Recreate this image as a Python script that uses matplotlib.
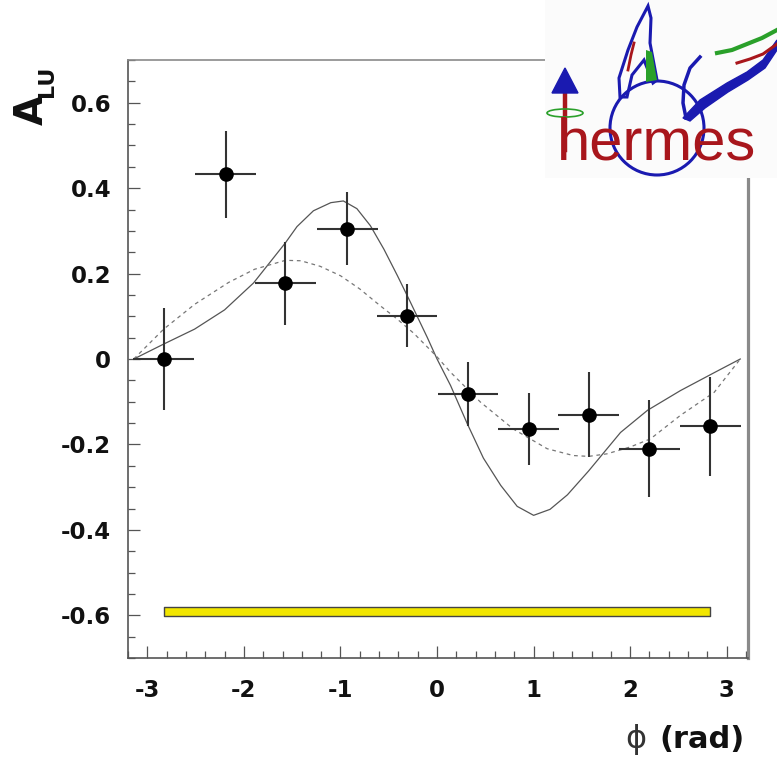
import matplotlib
matplotlib.use('Agg')
import matplotlib.pyplot as plt
from matplotlib.ticker import MultipleLocator, FuncFormatter
from matplotlib.patches import Circle, Ellipse, Polygon, Rectangle

plt.rcParams['font.family'] = ['DejaVu Sans']
plt.rcParams['axes.unicode_minus'] = False

# ---- data ----
phi = [-2.83, -2.19, -1.57, -0.93, -0.31, 0.32, 0.95, 1.57, 2.20, 2.83]
a_lu = [0.000, 0.432, 0.177, 0.305, 0.101, -0.082, -0.164, -0.130, -0.210, -0.158]
a_err = [0.119, 0.101, 0.097, 0.085, 0.074, 0.076, 0.085, 0.100, 0.113, 0.116]
phi_halfwidth = [0.314, 0.314, 0.314, 0.314, 0.314, 0.314, 0.314, 0.314, 0.314, 0.314]

sys_low = [-0.602, -0.602, -0.602, -0.602, -0.602, -0.602, -0.602, -0.602, -0.602, -0.602]
sys_high = [-0.580, -0.580, -0.580, -0.580, -0.580, -0.580, -0.580, -0.580, -0.580, -0.580]

solid_x = [-3.14, -2.83, -2.51, -2.20, -1.90, -1.57, -1.45, -1.28, -1.10, -0.97, -0.83,
           -0.69, -0.55, -0.41, -0.28, -0.10, 0.00, 0.14, 0.31, 0.48, 0.66, 0.83,
           1.00, 1.17, 1.35, 1.57, 1.90, 2.18, 2.52, 2.87, 3.14]
solid_y = [0.000, 0.035, 0.070, 0.115, 0.178, 0.272, 0.310, 0.347, 0.366, 0.370, 0.352,
           0.312, 0.257, 0.195, 0.135, 0.050, 0.000, -0.062, -0.150, -0.232, -0.296, -0.345,
           -0.366, -0.352, -0.318, -0.262, -0.172, -0.120, -0.074, -0.032, 0.000]

dash_x = [-3.14, -2.83, -2.51, -2.16, -1.89, -1.57, -1.41, -1.21, -1.00, -0.80, -0.59,
          -0.41, -0.24, 0.00, 0.14, 0.45, 0.79, 1.14, 1.41, 1.57, 1.76, 2.00, 2.21,
          2.52, 2.87, 3.14]
dash_y = [0.000, 0.070, 0.128, 0.179, 0.210, 0.231, 0.230, 0.217, 0.195, 0.164, 0.125,
          0.093, 0.060, 0.005, -0.031, -0.101, -0.164, -0.210, -0.226, -0.228, -0.222,
          -0.206, -0.187, -0.132, -0.078, 0.000]

W, H = 777, 758
fig = plt.figure(figsize=(W / 100, H / 100), dpi=100)
fig.patch.set_facecolor('white')
ax = fig.add_axes([128 / W, 1 - 658 / H, 620 / W, 598 / H])
ax.set_xlim(-3.2, 3.22)
ax.set_ylim(-0.7, 0.7)

# systematic band
ax.fill_between(phi, sys_low, sys_high, facecolor='#f2e600', edgecolor='#444444', lw=1.0, zorder=2)

# curves
ax.plot(solid_x, solid_y, color='#555555', lw=0.9, zorder=3)
ax.plot(dash_x, dash_y, color='#777777', lw=0.9, ls=(0, (3, 3)), zorder=3)

# data
ax.errorbar(phi, a_lu, yerr=a_err, xerr=phi_halfwidth, fmt='o', color='black', ms=9.5,
            ecolor='#333333', elinewidth=1.5, capsize=0, zorder=5)

# spines
for s in ['left', 'bottom']:
    ax.spines[s].set_color('#555555')
    ax.spines[s].set_linewidth(1.2)
ax.spines['top'].set_color('#8a8a8a')
ax.spines['top'].set_linewidth(1.2)
ax.spines['right'].set_color('#8a8a8a')
ax.spines['right'].set_linewidth(2.3)

ax.xaxis.set_major_locator(MultipleLocator(1))
ax.xaxis.set_minor_locator(MultipleLocator(0.2))
ax.yaxis.set_major_locator(MultipleLocator(0.2))
ax.yaxis.set_minor_locator(MultipleLocator(0.05))
fmt = FuncFormatter(lambda v, p: ('%g' % round(v, 3)).replace('-0', '-0') if abs(v) > 1e-9 else '0')
ax.yaxis.set_major_formatter(fmt)
ax.xaxis.set_major_formatter(FuncFormatter(lambda v, p: '%d' % round(v)))
ax.tick_params(which='both', direction='in', top=False, right=False, color='#555555')
ax.tick_params(which='major', length=8.6, width=0.9)
ax.tick_params(which='minor', length=4.7, width=0.9)
ax.tick_params(axis='x', which='major', pad=15)
ax.tick_params(axis='y', which='major', pad=12)
for lab in ax.get_xticklabels() + ax.get_yticklabels():
    lab.set_fontsize(16.5)
    lab.set_fontweight('bold')
    lab.set_color('#111111')

# axis titles
fig.text(745 / W, 1 - 748 / H, '(rad)', ha='right', va='baseline', fontsize=22,
         fontweight='bold', color='#111111')
fig.text(646 / W, 1 - 748 / H, '\u03d5', ha='right', va='baseline', fontsize=23,
         color='#333333')
fig.text(43 / W, 1 - 125 / H, 'A', rotation=90, rotation_mode='anchor', ha='left',
         va='baseline', fontsize=28, fontweight='bold', color='#111111')
fig.text(53 / W, 1 - 97 / H, 'LU', rotation=90, rotation_mode='anchor', ha='left',
         va='baseline', fontsize=16, fontweight='bold', color='#111111')

# ---- HERMES logo ----
lax = fig.add_axes([545 / W, 1 - 178 / H, 232 / W, 178 / H])
lax.set_xlim(545, 777)
lax.set_ylim(178, 0)
lax.axis('off')
lax.add_patch(Rectangle((545, 0), 232, 178, facecolor='#fbfbfb', edgecolor='none', zorder=0))
blue = '#1a1ab0'
red = '#a8161c'
green = '#2aa02a'
lax.add_patch(Circle((657, 128), 47, fill=False, ec=blue, lw=2.2, zorder=2))
# left wing
lax.add_patch(Polygon([(620, 97), (619, 78), (628, 50), (637, 27), (648, 6), (651, 18),
                       (650, 43), (657, 80), (653, 83), (644, 60), (632, 75), (627, 97)],
                      closed=True, facecolor='none', edgecolor=blue, lw=2.2, zorder=2))
lax.add_patch(Polygon([(646, 50), (652, 52), (657, 80), (646, 82)], closed=True,
                      facecolor=green, edgecolor='none', zorder=3))
lax.plot([628, 631, 634], [70, 55, 43], color=red, lw=2.0, zorder=3)
# right C stroke
lax.plot([700, 690, 684, 683, 686], [57, 68, 85, 103, 118], color=blue, lw=2.5, zorder=2)
# right wing
lax.add_patch(Polygon([(683, 118), (700, 100), (727, 83), (747, 72), (763, 60), (777, 40),
                       (777, 50), (765, 68), (748, 80), (728, 92), (705, 108), (690, 121)],
                      closed=True, facecolor=blue, edgecolor=blue, lw=1.0, zorder=2))
lax.plot([717, 732, 747, 762, 777], [53, 50, 44, 38, 30], color=green, lw=3.0, zorder=3)
lax.plot([737, 750, 763, 777], [63, 59, 54, 44], color=red, lw=2.2, zorder=3)
# arrow
lax.plot([565, 565], [150, 90], color=red, lw=3.2, zorder=3)
lax.add_patch(Polygon([(552, 93), (578, 93), (565, 68)], closed=True, facecolor=blue,
                      edgecolor=blue, zorder=4))
lax.add_patch(Ellipse((565, 113), 36, 8, fill=False, ec=green, lw=1.2, zorder=4))
lax.text(557, 160, 'hermes', fontsize=43, family='Liberation Sans', color=red,
         va='baseline', ha='left', zorder=5)

fig.savefig('out.png', dpi=100)
